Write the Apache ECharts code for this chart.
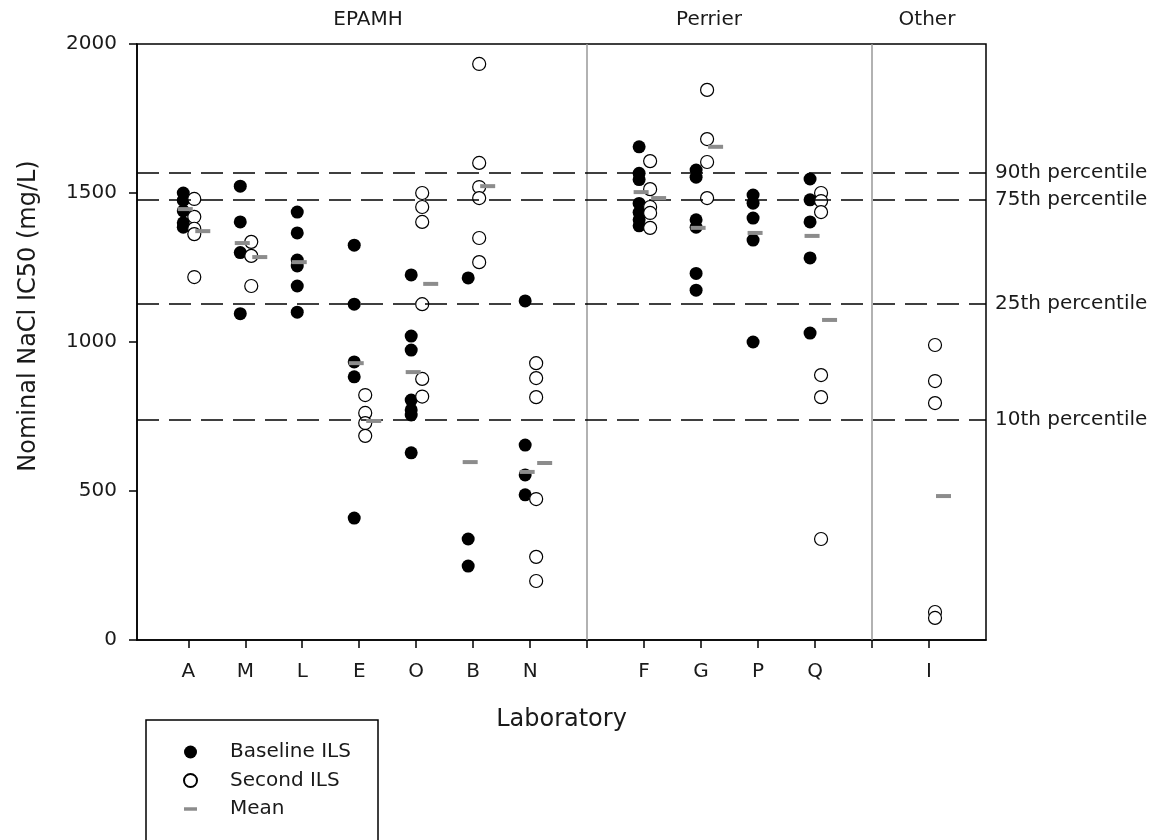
<!DOCTYPE html>
<html>
<head>
<meta charset="utf-8">
<script src="https://cdn.jsdelivr.net/npm/echarts@6/dist/echarts.min.js"></script>
<style>
  html, body { margin: 0; padding: 0; background: #fff; }
  #chart { width: 1158px; height: 840px; }
</style>
</head>
<body>
<div id="chart"></div>
<script>
// ---------------- DATA ----------------
const groupNames = ['EPAMH', 'Perrier', 'Other'];
const groupLabs = [['A', 'M', 'L', 'E', 'O', 'B', 'N'], ['F', 'G', 'P', 'Q'], ['I']];

// order: A, M, L, E, O, B, N, F, G, P, Q, I
const baselineILS = [
  [1500, 1475, 1440, 1400, 1385],
  [1523, 1403, 1300, 1095],
  [1436, 1366, 1275, 1255, 1188, 1100],
  [1325, 1127, 933, 883, 409],
  [1225, 1020, 973, 805, 772, 755, 628],
  [1215, 339, 248],
  [1138, 654, 554, 487],
  [1655, 1566, 1545, 1465, 1435, 1410, 1390],
  [1577, 1553, 1410, 1385, 1230, 1174],
  [1493, 1466, 1416, 1342, 1000],
  [1547, 1477, 1403, 1282, 1030],
  []
];
const secondILS = [
  [1480, 1420, 1380, 1362, 1218],
  [1336, 1289, 1188],
  [],
  [822, 762, 728, 685],
  [1500, 1453, 1403, 1127, 876, 817],
  [1933, 1601, 1520, 1483, 1349, 1268],
  [929, 879, 815, 473, 279, 198],
  [1607, 1513, 1453, 1433, 1383],
  [1846, 1681, 1604, 1483],
  [],
  [1500, 1473, 1436, 889, 815, 339],
  [990, 869, 795, 94, 74]
];
const baselineMean = [1446, 1332, 1268, 929, 899, 597, 564, 1503, 1383, 1366, 1356, null];
const secondMean = [1372, 1285, null, 735, 1195, 1523, 594, 1483, 1655, null, 1074, 483];

const percentileValues = [1567, 1477, 1128, 740];
const percentileLabels = ['90th percentile', '75th percentile', '25th percentile', '10th percentile'];

// ---------------- BUILD ----------------
const labs = groupLabs.flat();
const labPos = [];
const sepPos = [];
let p = 1;
groupLabs.forEach((g, gi) => {
  g.forEach(() => labPos.push(p++));
  if (gi < groupLabs.length - 1) sepPos.push(p++);
});
const xMax = p;
const labAt = {};
labPos.forEach((x, i) => { labAt[x] = labs[i]; });

function points(arr) {
  const out = [];
  arr.forEach((vals, i) => vals.forEach(v => out.push([labPos[i], v])));
  return out;
}
function means(arr) {
  const out = [];
  arr.forEach((v, i) => { if (v !== null) out.push([labPos[i], v]); });
  return out;
}

const FONT = "'DejaVu Sans', 'Liberation Sans', Arial, sans-serif";
const TXT = '#1a1a1a';
const FS = 20;

const chart = echarts.init(document.getElementById('chart'), null, { renderer: 'canvas' });

chart.setOption({
  animation: false,
  backgroundColor: '#fff',
  textStyle: { fontFamily: FONT },
  grid: {
    left: 137, right: 172, top: 44, bottom: 200,
    show: true, borderColor: '#000', borderWidth: 1.5, backgroundColor: 'transparent'
  },
  xAxis: {
    type: 'value',
    min: 0.1,
    max: xMax,
    name: 'Laboratory',
    nameLocation: 'middle',
    nameGap: 68,
    nameTextStyle: { fontSize: 24, color: TXT, fontFamily: FONT },
    axisLine: { lineStyle: { color: '#000', width: 1.5 } },
    axisTick: { show: true, length: 8, lineStyle: { color: '#000', width: 1.5 }, customValues: labPos.concat(sepPos) },
    axisLabel: {
      customValues: labPos,
      formatter: v => labAt[v] || '',
      fontSize: FS, color: TXT, fontFamily: FONT, margin: 22
    },
    splitLine: { show: false }
  },
  yAxis: {
    type: 'value',
    min: 0,
    max: 2000,
    interval: 500,
    name: 'Nominal NaCl IC50 (mg/L)',
    nameLocation: 'middle',
    nameGap: 96,
    nameTextStyle: { fontSize: 24, color: TXT, fontFamily: FONT, padding: [0, 0, 0, 52] },
    axisLine: { show: true, lineStyle: { color: '#000', width: 1.5 } },
    axisTick: { show: true, length: 8, lineStyle: { color: '#000', width: 1.5 } },
    axisLabel: { fontSize: FS, color: TXT, fontFamily: FONT, margin: 20, formatter: v => String(v) },
    splitLine: { show: false }
  },
  legend: {
    orient: 'vertical',
    left: 146,
    top: 720,
    padding: [22, 0, 0, 37],
    itemWidth: 13,
    itemHeight: 13,
    itemGap: 8.5,
    textStyle: { fontSize: FS, color: TXT, fontFamily: FONT, padding: [0, 0, 0, 28] },
    data: [
      { name: 'Baseline ILS', icon: 'circle' },
      { name: 'Second ILS', icon: 'circle' },
      { name: 'Mean', icon: 'path://M0,0H15V4H0Z' }
    ]
  },
  graphic: [
    { type: 'rect', shape: { x: 146, y: 720, width: 232, height: 140 }, style: { fill: 'none', stroke: '#000', lineWidth: 1.5 }, silent: true },
    { type: 'text', x: 368, y: 20, style: { text: groupNames[0], font: FS + 'px ' + FONT, fill: TXT, align: 'center', verticalAlign: 'middle' } },
    { type: 'text', x: 709, y: 20, style: { text: groupNames[1], font: FS + 'px ' + FONT, fill: TXT, align: 'center', verticalAlign: 'middle' } },
    { type: 'text', x: 927, y: 20, style: { text: groupNames[2], font: FS + 'px ' + FONT, fill: TXT, align: 'center', verticalAlign: 'middle' } }
  ],
  series: [
    {
      name: 'guides',
      type: 'scatter',
      data: [],
      silent: true,
      markLine: {
        silent: true,
        symbol: ['none', 'none'],
        animation: false,
        data: sepPos.map(x => ({ xAxis: x, lineStyle: { color: '#999', width: 1.5, type: 'solid' }, label: { show: false } }))
          .concat(percentileValues.map((v, i) => ({
            yAxis: v,
            name: percentileLabels[i],
            lineStyle: { color: '#000', width: 1.5, type: [22, 10] },
            label: { show: true, position: 'end', formatter: '{b}', fontSize: FS, color: TXT, fontFamily: FONT, distance: 9 }
          })))
      }
    },
    {
      name: 'Baseline ILS',
      type: 'scatter',
      data: points(baselineILS),
      symbol: 'circle',
      symbolSize: 13,
      symbolOffset: [-5, 0],
      itemStyle: { color: '#000', opacity: 1 },
      z: 3
    },
    {
      name: 'Second ILS',
      type: 'scatter',
      data: points(secondILS),
      symbol: 'circle',
      symbolSize: 13,
      symbolOffset: [6, 0],
      itemStyle: { color: '#fff', borderColor: '#000', borderWidth: 1.2, opacity: 1 },
      z: 4
    },
    {
      name: 'Mean',
      type: 'scatter',
      data: means(baselineMean),
      symbol: 'rect',
      symbolSize: [15, 4],
      symbolOffset: [-3, 0],
      itemStyle: { color: '#8c8c8c', opacity: 1 },
      z: 5
    },
    {
      name: 'Mean',
      type: 'scatter',
      data: means(secondMean),
      symbol: 'rect',
      symbolSize: [15, 4],
      symbolOffset: [14.5, 0],
      itemStyle: { color: '#8c8c8c', opacity: 1 },
      z: 5
    }
  ]
});
</script>
</body>
</html>
